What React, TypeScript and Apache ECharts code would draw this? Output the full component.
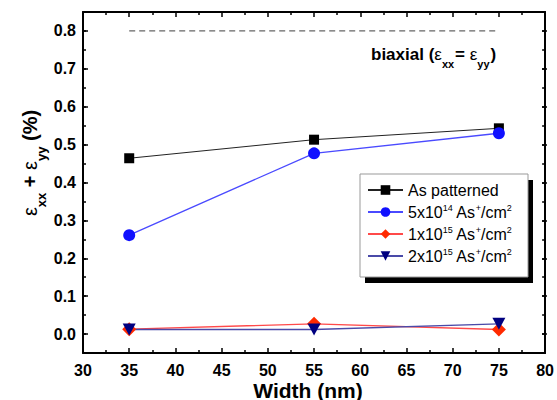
import React, { useEffect, useRef } from "react";
import * as echarts from "echarts";

const widths = [35, 55, 75];
const asPatterned = [0.464, 0.513, 0.543];
const dose5e14 = [0.261, 0.477, 0.53];
const dose1e15 = [0.013, 0.027, 0.012];
const dose2e15 = [0.012, 0.012, 0.027];
const biaxialLevel = 0.8;
const biaxialRange = [35, 75];

const seriesNames = ["As patterned", "5x10^14 As+/cm2", "1x10^15 As+/cm2", "2x10^15 As+/cm2"];
const legendRich: Record<string, string> = {
  "As patterned": "As patterned",
  "5x10^14 As+/cm2": "5x10{sup|14} As{sup|+}/cm{sup|2}",
  "1x10^15 As+/cm2": "1x10{sup|15} As{sup|+}/cm{sup|2}",
  "2x10^15 As+/cm2": "2x10{sup|15} As{sup|+}/cm{sup|2}",
};

const FONT = '"Liberation Sans", Arial, Helvetica, sans-serif';

export default function App() {
  const ref = useRef<HTMLDivElement>(null);
  useEffect(() => {
    if (!ref.current) return;
    const chart = echarts.init(ref.current, null, { renderer: "svg" });
    const yMin = -0.05;
    const yMax = 0.85;
    const gTop = 12;
    const gBottom = 47;
    const H = 400 - gTop - gBottom;
    const ppu = H / (yMax - yMin);
    const bTop = gTop + (yMax - 0.8) * ppu;
    const bBottom = gBottom + (0 - yMin) * ppu;

    const axisLine = { show: true, onZero: false, lineStyle: { color: "#000", width: 2 } };
    const tickStyle = { color: "#000", width: 1.5 };
    const labelStyle = { fontSize: 16, fontWeight: "bold" as const, color: "#000", fontFamily: FONT };

    const xBase = {
      type: "value" as const,
      gridIndex: 0,
      min: 30,
      max: 80,
      interval: 5,
      axisLine,
      axisTick: { inside: true, length: 5, lineStyle: tickStyle },
      minorTick: { show: true, splitNumber: 2, length: 3, lineStyle: tickStyle },
      splitLine: { show: false },
    };

    const data = (ys: number[]) => widths.map((w, i) => [w, ys[i]]);

    const option: any = {
      animation: false,
      backgroundColor: "#fff",
      grid: [
        { left: 83, right: 10, top: gTop, bottom: gBottom },
        { left: 83, right: 10, top: bTop, bottom: bBottom },
      ],
      xAxis: [
        { ...xBase, position: "bottom", axisLabel: { ...labelStyle, margin: 9 } },
        { ...xBase, position: "top", axisLabel: { show: false } },
        { type: "value", gridIndex: 1, min: 30, max: 80, show: false },
      ],
      yAxis: [
        {
          type: "value", gridIndex: 0, min: yMin, max: yMax, interval: 0.05, position: "left",
          axisLine, axisTick: { inside: true, length: 3, lineStyle: tickStyle },
          axisLabel: { show: false }, splitLine: { show: false },
        },
        {
          type: "value", gridIndex: 0, min: yMin, max: yMax, interval: 0.05, position: "right",
          axisLine, axisTick: { inside: true, length: 3, lineStyle: tickStyle },
          axisLabel: { show: false }, splitLine: { show: false },
        },
        {
          type: "value", gridIndex: 1, min: 0, max: 0.8, interval: 0.1, position: "left",
          axisLine: { show: false, onZero: false },
          axisTick: { inside: true, length: 5, lineStyle: tickStyle },
          axisLabel: { ...labelStyle, margin: 7, formatter: (v: number) => v.toFixed(1) },
          splitLine: { show: false },
        },
        {
          type: "value", gridIndex: 1, min: 0, max: 0.8, interval: 0.1, position: "right",
          axisLine: { show: false, onZero: false },
          axisTick: { inside: true, length: 5, lineStyle: tickStyle },
          axisLabel: { show: false }, splitLine: { show: false },
        },
      ],
      legend: {
        orient: "vertical",
        left: 367,
        top: 181,
        padding: 0,
        itemWidth: 35,
        itemHeight: 12,
        itemGap: 4,
        z: 10,
        data: seriesNames,
        formatter: (name: string) => legendRich[name] || name,
        textStyle: {
          fontSize: 16,
          fontFamily: FONT,
          color: "#000",
          lineHeight: 18,
          rich: {
            sup: { fontSize: 9, fontFamily: FONT, color: "#000", padding: [0, 0, 9, 0] },
          },
        },
      },
      graphic: [
        { type: "rect", z: 1, shape: { x: 365, y: 180, width: 168, height: 103 }, style: { fill: "#000" } },
        { type: "rect", z: 2, shape: { x: 360, y: 174, width: 168, height: 103 }, style: { fill: "#fff", stroke: "#999", lineWidth: 1 } },
        {
          type: "text",
          z: 5,
          x: 371,
          y: 54,
          style: {
            text: "{b|biaxial (}{e|ε}{s|xx}{b|= }{e|ε}{s|yy}{b|)}",
            align: "left",
            verticalAlign: "middle",
            fill: "#000",
            rich: {
              b: { fontSize: 17, fontWeight: "bold", fontFamily: FONT, fill: "#000" },
              e: { fontSize: 17, fontFamily: FONT, fill: "#000" },
              s: { fontSize: 11, fontWeight: "bold", fontFamily: FONT, fill: "#000", padding: [20, 1, 0, 0] },
            },
          },
        },
        {
          type: "text",
          z: 5,
          x: 30,
          y: 163,
          rotation: Math.PI / 2,
          style: {
            text: "{e|ε}{s|xx}{b| + }{e|ε}{s|yy}{b| (%)}",
            align: "center",
            verticalAlign: "middle",
            fill: "#000",
            rich: {
              b: { fontSize: 20, fontWeight: "bold", fontFamily: FONT, fill: "#000" },
              e: { fontSize: 20, fontFamily: FONT, fill: "#000" },
              s: { fontSize: 13, fontWeight: "bold", fontFamily: FONT, fill: "#000", padding: [22, 0, 0, 0] },
            },
          },
        },
        {
          type: "text",
          z: 5,
          x: 308,
          y: 390,
          style: {
            text: "Width (nm)",
            align: "center",
            verticalAlign: "middle",
            fontSize: 21,
            fontWeight: "bold",
            fontFamily: FONT,
            fill: "#000",
          },
        },
      ],
      series: [
        {
          name: "biaxial",
          type: "line",
          xAxisIndex: 0,
          yAxisIndex: 0,
          data: biaxialRange.map((x) => [x, biaxialLevel]),
          symbol: "none",
          lineStyle: { color: "#666", width: 1.3, type: [6, 4] },
          silent: true,
          z: 1,
        },
        {
          name: seriesNames[0],
          type: "line",
          xAxisIndex: 0,
          yAxisIndex: 0,
          data: data(asPatterned),
          symbol: "rect",
          symbolSize: 10,
          itemStyle: { color: "#000" },
          lineStyle: { color: "#222", width: 1 },
        },
        {
          name: seriesNames[1],
          type: "line",
          xAxisIndex: 0,
          yAxisIndex: 0,
          data: data(dose5e14),
          symbol: "circle",
          symbolSize: 12,
          itemStyle: { color: "#1010ff" },
          lineStyle: { color: "#4a4aff", width: 1.3 },
        },
        {
          name: seriesNames[2],
          type: "line",
          xAxisIndex: 0,
          yAxisIndex: 0,
          data: data(dose1e15),
          symbol: "diamond",
          symbolSize: 14,
          itemStyle: { color: "#ff2a00" },
          lineStyle: { color: "#ff4a4a", width: 1.3 },
        },
        {
          name: seriesNames[3],
          type: "line",
          xAxisIndex: 0,
          yAxisIndex: 0,
          data: data(dose2e15),
          symbol: "path://M0,0 L10,0 L5,9 Z",
          symbolSize: [13, 12],
          itemStyle: { color: "#000080" },
          lineStyle: { color: "#4a4aa8", width: 1.3 },
        },
      ],
    };
    chart.setOption(option);
    return () => chart.dispose();
  }, []);
  return (
    <div
      ref={ref}
      style={{ position: "fixed", left: 0, top: 0, width: 557, height: 400, background: "#fff" }}
    />
  );
}
